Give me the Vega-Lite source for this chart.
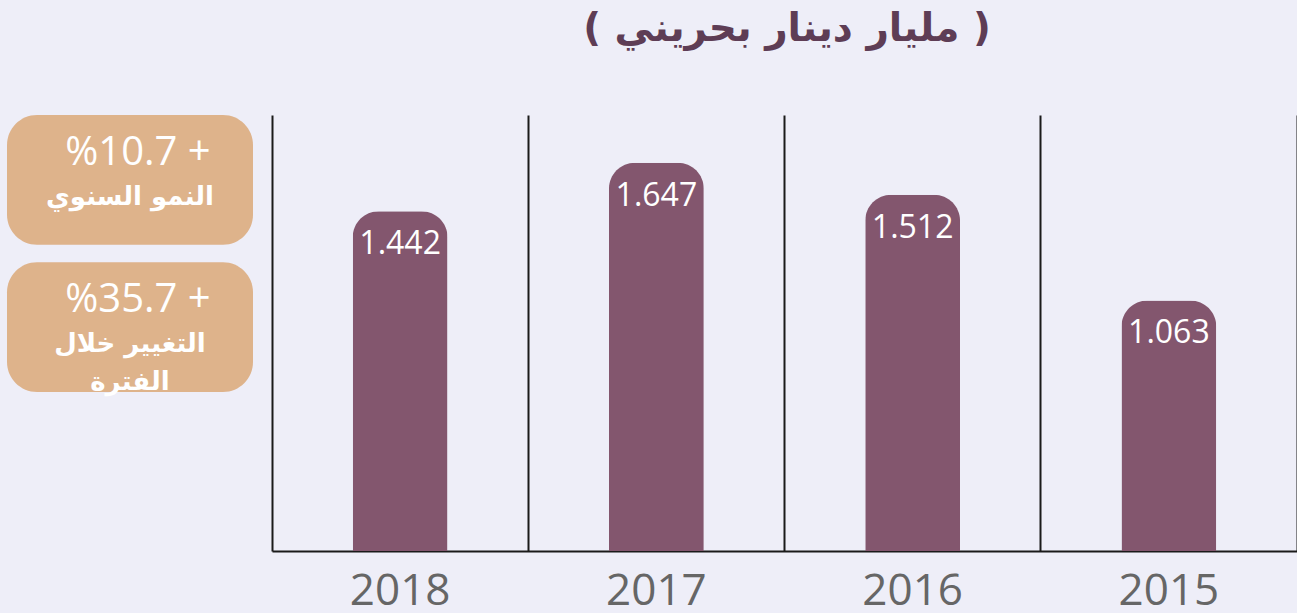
{
  "$schema": "https://vega.github.io/schema/vega-lite/v6.json",
  "background": "#eeeef8",
  "padding": {"left": 7, "top": 10, "right": 0, "bottom": 0},
  "title": {
    "text": "( مليار دينار بحريني )",
    "font": "DejaVu Sans",
    "fontSize": 39,
    "fontWeight": "bold",
    "color": "#5e3d55",
    "anchor": "middle",
    "frame": "bounds",
    "dx": 135,
    "offset": 66
  },
  "datasets": {
    "sales": [
      {"year": "2018", "value": 1.442},
      {"year": "2017", "value": 1.647},
      {"year": "2016", "value": 1.512},
      {"year": "2015", "value": 1.063}
    ],
    "boxes": [
      {"box": "annual", "pct": "%10.7 +", "label": ["النمو السنوي"]},
      {"box": "period", "pct": "%35.7 +", "label": ["التغيير خلال", "الفترة"]}
    ]
  },
  "spacing": 19,
  "hconcat": [
    {
      "width": 246,
      "height": 277,
      "data": {"name": "boxes"},
      "encoding": {
        "y": {
          "field": "box",
          "type": "nominal",
          "sort": ["annual", "period"],
          "axis": null,
          "scale": {"paddingInner": 0.12, "paddingOuter": 0}
        }
      },
      "layer": [
        {
          "mark": {"type": "rect", "color": "#deb38b", "cornerRadius": 30}
        },
        {
          "mark": {
            "type": "text",
            "color": "white",
            "font": "Open Sans",
            "fontSize": 40,
            "baseline": "middle",
            "dy": -27,
            "dx": 8
          },
          "encoding": {"text": {"field": "pct"}}
        },
        {
          "mark": {
            "type": "text",
            "color": "white",
            "font": "DejaVu Sans",
            "fontWeight": "bold",
            "fontSize": 26,
            "baseline": "top",
            "lineHeight": 38,
            "dy": 4
          },
          "encoding": {"text": {"field": "label"}}
        }
      ]
    },
    {
      "width": 1025,
      "height": 436,
      "data": {"name": "sales"},
      "encoding": {
        "x": {
          "field": "year",
          "type": "nominal",
          "sort": ["2018", "2017", "2016", "2015"],
          "scale": {"paddingInner": 0, "paddingOuter": 0},
          "axis": {
            "title": null,
            "labelAngle": 0,
            "labelFont": "Open Sans",
            "labelFontSize": 44,
            "labelColor": "#666666",
            "labelBaseline": "alphabetic",
            "labelPadding": 53,
            "ticks": false,
            "domainColor": "#1a1a1a",
            "domainWidth": 2,
            "grid": true,
            "gridColor": "#1a1a1a",
            "gridWidth": 2,
            "gridOpacity": 1,
            "bandPosition": 0
          }
        },
        "y": {
          "field": "value",
          "type": "quantitative",
          "scale": {"domain": [0, 1.85], "nice": false}
        }
      },
      "layer": [
        {
          "mark": {
            "type": "bar",
            "color": "#83566e",
            "width": {"band": 0.37},
            "cornerRadiusTopLeft": 26,
            "cornerRadiusTopRight": 26
          },
          "encoding": {"y": {"field": "value", "type": "quantitative", "axis": null}}
        },
        {
          "mark": {
            "type": "text",
            "color": "white",
            "font": "Open Sans",
            "fontSize": 32,
            "baseline": "middle",
            "dy": 33
          },
          "encoding": {
            "text": {"field": "value", "type": "quantitative", "format": ".3f"},
            "y": {
              "field": "value",
              "type": "quantitative",
              "axis": {
                "orient": "right",
                "labels": false,
                "ticks": false,
                "grid": false,
                "title": null,
                "domainColor": "#1a1a1a",
                "domainWidth": 2
              }
            }
          }
        }
      ],
      "resolve": {"axis": {"y": "independent"}}
    }
  ],
  "config": {"view": {"stroke": null}}
}
